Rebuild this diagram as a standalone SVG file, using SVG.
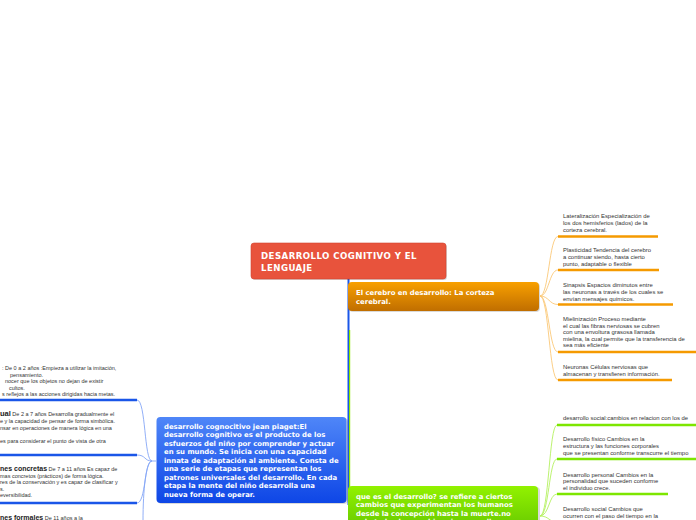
<svg xmlns="http://www.w3.org/2000/svg" width="696" height="520" viewBox="0 0 696 520">
<defs>
<linearGradient id="gOr" x1="0" y1="0" x2="0" y2="1"><stop offset="0" stop-color="#F8A000"/><stop offset="1" stop-color="#C06E00"/></linearGradient>
<linearGradient id="gBl" x1="0" y1="0" x2="0" y2="1"><stop offset="0" stop-color="#4F86F8"/><stop offset="1" stop-color="#0E46E6"/></linearGradient>
<linearGradient id="gGr" x1="0" y1="0" x2="0" y2="1"><stop offset="0" stop-color="#92F200"/><stop offset="1" stop-color="#6ACC00"/></linearGradient>
</defs>
<style>
.nt{font-family:"DejaVu Sans",Verdana,sans-serif;font-weight:bold;fill:#fff}
.lt{font-family:"Liberation Sans",Arial,sans-serif;font-size:5.5px;fill:#333}
.rt{font-size:5.9px}
.hd{font-family:"Liberation Sans",Arial,sans-serif;font-size:7px;font-weight:bold;fill:#222}
.sh{fill:#000;opacity:0.15}
.ulO{stroke:#F59A00;stroke-width:2.5;fill:none}
.ulG{stroke:#7DE600;stroke-width:2.5;fill:none}
.ulB{stroke:#1A56E8;stroke-width:2.5;fill:none}
.cO{stroke:#FAC878;stroke-width:0.9;fill:none}
.cG{stroke:#B4F060;stroke-width:0.9;fill:none}
.cB{stroke:#84A6F6;stroke-width:0.9;fill:none}
</style>

<g id="connectors">
<line x1="348.5" y1="279" x2="348.5" y2="505" stroke="#1A56E8" stroke-width="2"/>
<line x1="349.6" y1="330" x2="349.6" y2="490" stroke="#8EE800" stroke-width="1.2"/>
<path class="cO" d="M540,296 C549,296 549,236.5 558,236.5"/>
<path class="cO" d="M540,296 C549,296 549,270 558,270"/>
<path class="cO" d="M540,296 C549,296 549,304.5 558,304.5"/>
<path class="cO" d="M540,296 C549,296 549,352 558,352"/>
<path class="cO" d="M540,296 C549,296 549,380 558,380"/>
<path class="cG" d="M540,516 C549,516 549,425 557,425"/>
<path class="cG" d="M540,516 C549,516 549,459 557,459"/>
<path class="cG" d="M540,516 C549,516 549,494 557,494"/>
<path class="cG" d="M540,516 C549,516 549,522 557,522"/>
<path class="cB" d="M152,461 C144,461 146,400 137,400"/>
<path class="cB" d="M152,461 C144,461 146,455 137,455"/>
<path class="cB" d="M152,461 C144,461 146,503 137,503"/>
<path class="cB" d="M152,461 C146,461 143,490 143,521"/>
<path class="cB" d="M152,461 L156,461"/>
</g>

<g id="root">
<rect class="sh" x="252" y="244" width="195" height="36" rx="3"/>
<rect x="251" y="243" width="195" height="36" rx="3" fill="#E8533C" stroke="#D24430" stroke-width="0.6"/>
<text class="nt" font-size="8.6" letter-spacing="0.45" x="261" y="259">DESARROLLO COGNITIVO Y EL</text>
<text class="nt" font-size="8.6" letter-spacing="0.45" x="261" y="270.5">LENGUAJE</text>
</g>

<g id="n-cerebro">
<rect class="sh" x="349" y="283" width="191" height="29" rx="4"/>
<rect x="348" y="282" width="191" height="29" rx="4" fill="url(#gOr)"/>
<text class="nt" font-size="6.9" x="356" y="295">El cerebro en desarrollo: La corteza</text>
<text class="nt" font-size="6.9" x="356" y="304">cerebral.</text>
</g>

<g id="n-piaget">
<rect class="sh" x="158" y="418" width="190" height="86" rx="4"/>
<rect x="156.5" y="417" width="190" height="86" rx="4" fill="url(#gBl)"/>
<text class="nt" font-size="6.9" x="164">
<tspan x="164" y="428.5">desarrollo cognocitivo jean piaget:El</tspan>
<tspan x="164" y="437">desarrollo cognitivo es el producto de los</tspan>
<tspan x="164" y="445.5">esfuerzos del niño por comprender y actuar</tspan>
<tspan x="164" y="454">en su mundo. Se inicia con una capacidad</tspan>
<tspan x="164" y="462.5">innata de adaptación al ambiente. Consta de</tspan>
<tspan x="164" y="471">una serie de etapas que representan los</tspan>
<tspan x="164" y="479.5">patrones universales del desarrollo. En cada</tspan>
<tspan x="164" y="488">etapa la mente del niño desarrolla una</tspan>
<tspan x="164" y="496.5">nueva forma de operar.</tspan>
</text>
</g>

<g id="n-desarrollo">
<rect class="sh" x="349" y="487" width="191" height="40" rx="4"/>
<rect x="348" y="486" width="190" height="40" rx="4" fill="url(#gGr)"/>
<text class="nt" font-size="6.9" x="356">
<tspan x="356" y="498.5">que es el desarrollo? se refiere a ciertos</tspan>
<tspan x="356" y="507">cambios que experimentan los humanos</tspan>
<tspan x="356" y="515.5">desde la concepción hasta la muerte.no</tspan>
<tspan x="356" y="524">solo todos los cambios si no aquellos que</tspan>
</text>
</g>

<g id="leaf-lateralizacion">
<text class="lt rt"><tspan x="563" y="218">Lateralización Especialización de</tspan><tspan x="563" y="225">los dos hemisferios (lados) de la</tspan><tspan x="563" y="232">corteza cerebral.</tspan></text>
<line class="ulO" x1="558" y1="236.5" x2="658" y2="236.5"/>
</g>
<g id="leaf-plasticidad">
<text class="lt rt"><tspan x="563" y="252">Plasticidad Tendencia del cerebro</tspan><tspan x="563" y="259">a continuar siendo, hasta cierto</tspan><tspan x="563" y="266">punto, adaptable o flexible</tspan></text>
<line class="ulO" x1="558" y1="270" x2="659" y2="270"/>
</g>
<g id="leaf-sinapsis">
<text class="lt rt"><tspan x="563" y="287">Sinapsis Espacios diminutos entre</tspan><tspan x="563" y="294">las neuronas a través de los cuales se</tspan><tspan x="563" y="301">envían mensajes químicos.</tspan></text>
<line class="ulO" x1="558" y1="304.5" x2="673" y2="304.5"/>
</g>
<g id="leaf-mielinizacion">
<text class="lt rt"><tspan x="563" y="321">Mielinización Proceso mediante</tspan><tspan x="563" y="327.5">el cual las fibras nerviosas se cubren</tspan><tspan x="563" y="334">con una envoltura grasosa llamada</tspan><tspan x="563" y="340.5">mielina, la cual permite que la transferencia de</tspan><tspan x="563" y="347">sea más eficiente</tspan></text>
<line class="ulO" x1="558" y1="352" x2="696" y2="352"/>
</g>
<g id="leaf-neuronas">
<text class="lt rt"><tspan x="563" y="369">Neuronas Células nerviosas que</tspan><tspan x="563" y="376">almacenan y transfieren información.</tspan></text>
<line class="ulO" x1="558" y1="380" x2="672" y2="380"/>
</g>

<g id="leaf-social1">
<text class="lt rt"><tspan x="563" y="420">desarrollo social:cambios en relacion con los de</tspan></text>
<line class="ulG" x1="557" y1="425" x2="696" y2="425"/>
</g>
<g id="leaf-fisico">
<text class="lt rt"><tspan x="563" y="441">Desarrollo físico Cambios en la</tspan><tspan x="563" y="448">estructura y las funciones corporales</tspan><tspan x="563" y="455">que se presentan conforme transcurre el tiempo</tspan></text>
<line class="ulG" x1="557" y1="459" x2="696" y2="459"/>
</g>
<g id="leaf-personal">
<text class="lt rt"><tspan x="563" y="476.5">Desarrollo personal Cambios en la</tspan><tspan x="563" y="483">personalidad que suceden conforme</tspan><tspan x="563" y="490">el individuo crece.</tspan></text>
<line class="ulG" x1="557" y1="494" x2="668" y2="494"/>
</g>
<g id="leaf-social2">
<text class="lt rt"><tspan x="563" y="511">Desarrollo social Cambios que</tspan><tspan x="563" y="518">ocurren con el paso del tiempo en la</tspan></text>
</g>

<g id="leaf-sensoriomotora">
<text class="lt"><tspan x="2" y="370">: De 0 a 2 años :Empieza a utilizar la imitación,</tspan><tspan x="10" y="376.5">pensamiento.</tspan><tspan x="5" y="383">nocer que los objetos no dejan de existir</tspan><tspan x="9" y="389.5">cultos.</tspan><tspan x="2" y="396">s reflejos a las acciones dirigidas hacia metas.</tspan></text>
<line class="ulB" x1="0" y1="400" x2="137" y2="400"/>
</g>
<g id="leaf-preoperacional">
<text class="lt"><tspan x="0" y="416"><tspan class="hd" style="font-size:7.5px">ual</tspan> De 2 a 7 años Desarrolla gradualmente el</tspan><tspan x="0" y="423">e y la capacidad de pensar de forma simbólica.</tspan><tspan x="0" y="430">nsar en operaciones de manera lógica en una</tspan><tspan x="0" y="443">es para considerar el punto de vista de otra</tspan></text>
<line class="ulB" x1="0" y1="455" x2="137" y2="455"/>
</g>
<g id="leaf-concretas">
<text class="lt"><tspan x="0" y="471"><tspan class="hd">nes concretas</tspan> De 7 a 11 años Es capaz de</tspan><tspan x="0" y="477.5">mas concretos (prácticos) de forma lógica.</tspan><tspan x="0" y="484">res de la conservación y es capaz de clasificar y</tspan><tspan x="0" y="490.5">s.</tspan><tspan x="0" y="497">eversibilidad.</tspan></text>
<line class="ulB" x1="0" y1="503" x2="137" y2="503"/>
</g>
<g id="leaf-formales">
<text class="lt"><tspan x="0" y="520"><tspan class="hd">nes formales</tspan> De 11 años a la</tspan></text>
</g>
</svg>
